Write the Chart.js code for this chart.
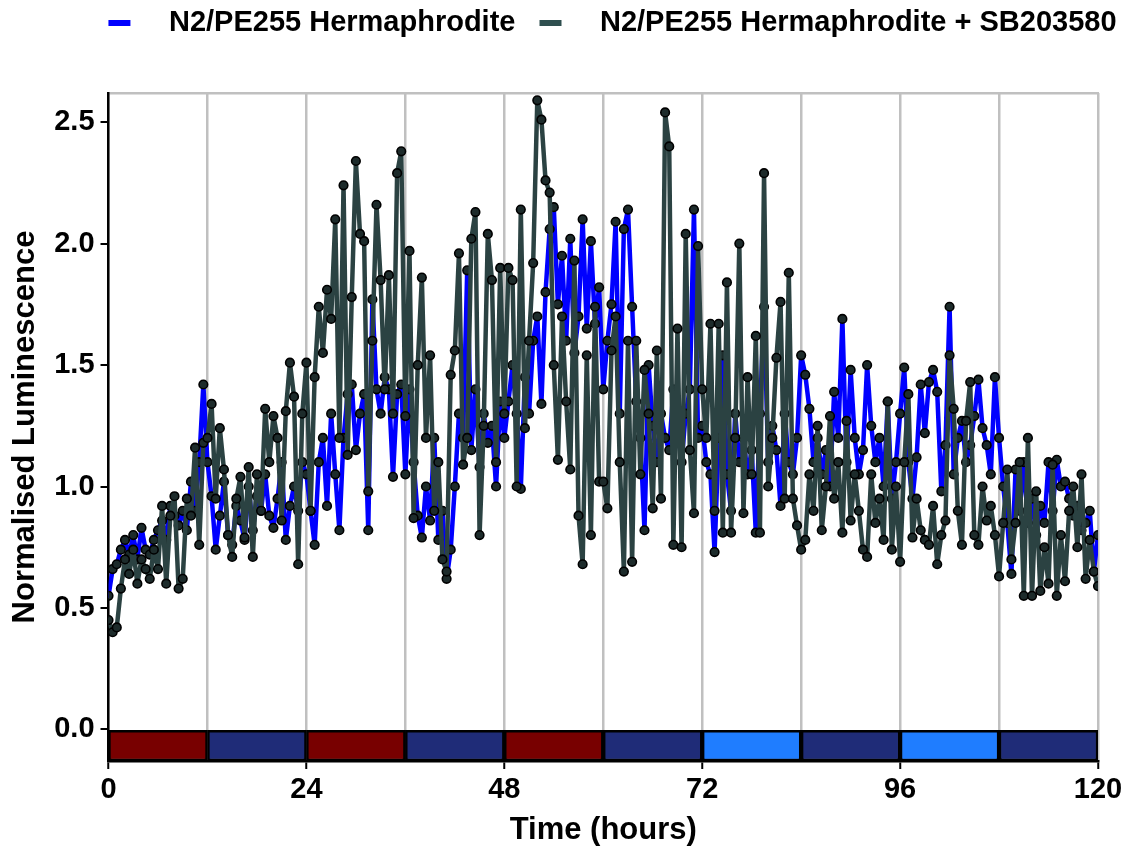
<!DOCTYPE html>
<html>
<head>
<meta charset="utf-8">
<script src="https://cdn.jsdelivr.net/npm/chart.js@4/dist/chart.umd.min.js"></script>
<style>
  body { margin: 0; background: #fff; }
</style>
</head>
<body>
<canvas id="lumChart" width="1136" height="849"></canvas>
<script>
// sampled every half hour, 0 .. 120 h
const SAMPLE_STEP = 0.5;

const controlLum = [
  0.55,0.66,0.68,0.74,0.78,0.72,0.80,0.70,0.83,0.74,0.72,0.78,0.82,0.86,0.78,0.92,0.88,0.84,0.90,0.82,1.02,0.90,1.10,1.42,
  1.10,0.96,0.74,0.88,1.02,0.80,0.76,0.92,0.86,0.78,1.00,0.82,0.96,0.90,1.05,0.88,0.83,0.95,1.10,0.78,0.92,1.00,0.90,1.10,
  1.05,0.90,0.76,1.10,1.20,0.92,1.30,1.05,0.82,1.20,1.38,1.42,1.15,1.30,1.38,0.82,1.77,1.40,1.30,1.45,1.40,1.04,1.38,1.42,
  1.05,1.40,1.10,0.88,0.79,1.00,0.86,1.20,0.78,0.90,0.62,0.74,1.00,1.30,1.20,1.89,1.15,1.40,1.08,1.30,1.18,1.25,1.00,1.35,
  1.20,1.35,1.50,1.30,0.99,1.45,1.30,1.60,1.70,1.34,1.80,2.06,2.15,1.75,1.95,1.60,2.02,1.55,1.70,2.10,1.65,2.01,1.67,1.82,
  1.40,1.60,1.75,2.09,1.30,2.06,2.14,1.74,1.35,1.20,0.82,1.50,1.25,1.10,1.30,1.20,1.15,1.40,1.25,1.10,1.30,1.40,2.14,1.20,
  1.25,1.10,1.05,0.73,1.20,1.54,1.05,0.90,1.30,1.10,1.20,1.05,1.15,0.81,1.30,1.74,1.10,1.25,1.15,0.92,1.30,1.10,1.05,1.20,
  1.54,1.46,1.32,1.10,1.20,1.05,1.15,1.00,1.39,1.20,1.69,1.10,1.48,1.20,1.05,1.15,1.50,1.25,1.10,1.20,1.00,1.35,0.95,1.10,
  1.30,1.49,1.10,0.95,1.12,1.42,1.22,1.43,1.48,1.39,0.98,1.17,1.74,1.05,1.20,1.27,1.10,1.17,1.29,1.44,1.24,1.17,1.05,1.45,
  1.20,1.00,0.85,0.64,1.07,0.90,1.10,0.85,0.95,0.80,0.92,0.85,1.10,0.90,1.11,1.00,1.02,0.95,0.88,0.92,0.82,0.85,0.90,0.65,0.80
];

const drugLum = [
  0.45,0.40,0.42,0.58,0.70,0.64,0.74,0.60,0.70,0.66,0.62,0.74,0.66,0.92,0.60,0.88,0.96,0.58,0.62,0.95,0.88,1.16,0.76,1.18,
  1.20,1.34,0.95,1.24,1.07,0.80,0.71,0.95,1.04,0.79,1.08,0.71,1.05,0.90,1.32,1.10,1.29,1.20,0.86,1.31,1.51,1.37,0.68,1.30,
  1.51,0.90,1.45,1.74,1.55,1.81,1.69,2.10,1.20,2.24,1.13,1.78,2.34,2.04,2.01,0.98,1.60,2.16,1.85,1.40,1.87,1.30,2.29,2.38,
  1.29,1.97,0.87,1.50,1.86,1.20,1.54,0.90,1.10,0.70,0.65,1.46,1.56,1.96,1.09,1.20,2.02,2.13,0.80,1.25,2.04,1.85,1.10,1.90,
  1.30,1.90,1.85,1.00,2.14,1.24,1.60,1.92,2.59,2.51,2.26,2.21,1.50,1.11,1.70,1.35,1.07,1.93,0.88,0.68,1.54,0.80,1.74,1.02,
  1.02,0.91,1.56,1.70,1.10,0.65,1.60,0.69,1.60,1.05,1.48,1.30,0.91,1.56,0.95,2.54,2.40,0.76,1.65,0.75,2.04,1.15,0.89,1.99,
  1.40,1.20,1.67,0.90,1.67,0.81,1.84,0.81,1.20,2.00,0.89,1.45,1.05,1.62,0.81,2.29,1.00,1.20,1.53,1.76,0.95,1.88,0.95,0.84,
  0.74,0.78,1.05,0.90,1.25,0.82,1.00,1.29,0.95,1.10,0.81,1.27,0.86,1.05,0.90,0.74,0.71,1.05,0.85,0.95,0.78,1.35,0.74,1.00,
  0.69,1.10,1.38,0.79,0.95,0.82,0.78,0.76,0.92,0.68,0.80,0.86,1.54,1.32,0.90,0.76,1.27,1.43,0.80,0.76,1.00,0.86,0.92,0.80,
  0.63,0.85,1.07,0.70,0.85,1.10,0.55,1.20,0.55,0.98,0.57,0.75,0.60,1.09,0.55,0.80,0.61,0.90,1.00,0.75,1.05,0.62,0.78,0.65,0.59
];

// light/dark/temperature phases shown in the strip under the traces
const phaseStarts = [0, 12, 24, 36, 48, 60, 72, 84, 96, 108];
const phaseColors = ["#780000", "#1f2c78", "#780000", "#1f2c78", "#780000",
                     "#1f2c78", "#1f7dff", "#1f2c78", "#1f7dff", "#1f2c78"];
const PHASE_LENGTH = 12;
const STRIP_BOTTOM = -0.13;

const yTicks = [0, 0.5, 1.0, 1.5, 2.0, 2.5];
const seriesNames = ["N2/PE255 Hermaphrodite", "N2/PE255 Hermaphrodite + SB203580"];
const seriesColors = ["#0000ff", "#2f4f4f"];

const sampleHours = controlLum.map((_, i) => i * SAMPLE_STEP);
const toPoints = (vals) => vals.map((v, i) => ({ x: sampleHours[i], y: v }));

const boldFont = (size) => ({ family: "'Liberation Sans', Arial, sans-serif", size: size, weight: "bold" });

// short thick legend line inside a wider transparent box (keeps the text spacing of the original)
function legendMark(color) {
  const c = document.createElement("canvas");
  c.width = 62;
  c.height = 6;
  const g = c.getContext("2d");
  g.fillStyle = color;
  g.fillRect(16, 0, 22, 6);
  return c;
}

// extra room under the legend, and push it a bit right like the original
const legendTweaks = {
  id: "legendTweaks",
  beforeInit(chart) {
    const fit = chart.legend.fit;
    chart.legend.fit = function () {
      fit.bind(chart.legend)();
      this.height += 46;
    };
  },
  afterLayout(chart) {
    chart.legend.left = 73;
    chart.legend.right = 1136;
  }
};

const lineStyle = {
  type: "line",
  borderWidth: 4.5,
  borderJoinStyle: "round",
  borderCapStyle: "round",
  tension: 0,
  pointRadius: 4.3,
  pointBorderWidth: 1.6,
  pointBackgroundColor: "#1d2b2b",
  pointBorderColor: "#000",
  fill: false
};

new Chart(document.getElementById("lumChart"), {
  data: {
    datasets: [
      Object.assign({}, lineStyle, {
        label: seriesNames[0],
        data: toPoints(controlLum),
        borderColor: seriesColors[0],
        backgroundColor: seriesColors[0],
        order: 1
      }),
      Object.assign({}, lineStyle, {
        label: seriesNames[1],
        data: toPoints(drugLum),
        borderColor: "#2b4242",
        backgroundColor: seriesColors[1],
        order: 0
      }),
      {
        type: "bar",
        label: "phase",
        data: phaseStarts.map((s) => ({ x: s + PHASE_LENGTH / 2, y: [STRIP_BOTTOM, 0] })),
        backgroundColor: phaseColors,
        borderColor: "#000",
        borderWidth: 2.5,
        borderSkipped: false,
        categoryPercentage: 1,
        barPercentage: 1,
        order: 2
      }
    ]
  },
  plugins: [legendTweaks],
  options: {
    responsive: false,
    animation: false,
    layout: { padding: { left: 7, right: 38, top: 0, bottom: 0 } },
    plugins: {
      tooltip: { enabled: false },
      legend: {
        position: "top",
        align: "center",
        labels: {
          usePointStyle: true,
          pointStyleWidth: 62,
          boxHeight: 6,
          color: "#000",
          font: boldFont(29),
          padding: 8,
          generateLabels: (chart) =>
            Chart.defaults.plugins.legend.labels.generateLabels(chart)
              .filter((item) => item.datasetIndex < 2)
              .sort((a, b) => a.datasetIndex - b.datasetIndex)
              .map((item) => Object.assign(item, { pointStyle: legendMark(seriesColors[item.datasetIndex]) }))
        }
      }
    },
    scales: {
      x: {
        type: "linear",
        min: 0,
        max: 120,
        offset: false,
        afterBuildTicks: (axis) => {
          axis.ticks = phaseStarts.concat([120]).map((v) => ({ value: v }));
        },
        ticks: {
          autoSkip: false,
          maxRotation: 0,
          color: "#000",
          font: boldFont(29),
          padding: 4,
          callback: (v) => (v % 24 === 0 ? String(v) : "")
        },
        grid: {
          offset: false,
          color: "#c0c0c0",
          lineWidth: 2.5,
          tickLength: 8,
          tickColor: (ctx) => (ctx.tick && ctx.tick.value % 24 === 0 ? "#000" : "rgba(0,0,0,0)"),
          tickWidth: 2
        },
        border: { color: "#000", width: 2.5 },
        title: {
          display: true,
          text: "Time (hours)",
          color: "#000",
          font: boldFont(31),
          padding: { top: 0, bottom: 0 }
        }
      },
      xTop: {
        type: "linear",
        position: "top",
        min: 0,
        max: 120,
        grid: { display: false, drawTicks: false },
        ticks: { display: false },
        border: { color: "#c0c0c0", width: 2.5 }
      },
      y: {
        min: STRIP_BOTTOM,
        max: 2.62,
        afterBuildTicks: (axis) => {
          axis.ticks = yTicks.map((v) => ({ value: v }));
        },
        ticks: {
          color: "#000",
          font: boldFont(29),
          padding: 6,
          callback: (v) => v.toFixed(1)
        },
        grid: {
          drawOnChartArea: false,
          color: "#000",
          tickLength: 8,
          lineWidth: 2
        },
        border: { color: "#000", width: 2.5 },
        title: {
          display: true,
          text: "Normalised Luminescence",
          color: "#000",
          font: boldFont(31),
          padding: { top: 0, bottom: 4 }
        }
      }
    }
  }
});
</script>
</body>
</html>
